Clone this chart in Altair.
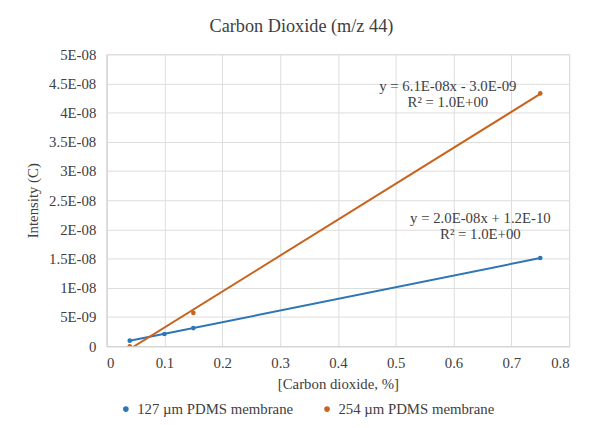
import altair as alt
import pandas as pd

series_names = ["127 µm PDMS membrane", "254 µm PDMS membrane"]
x_blue = [0.04, 0.10, 0.15, 0.75]
y_blue = [0.95e-9, 2.1e-9, 3.1e-9, 1.51e-8]
x_orange = [0.04, 0.15, 0.75]
y_orange = [0.0, 5.7e-9, 4.33e-8]
y_tick_values = [0, 5e-9, 1e-8, 1.5e-8, 2e-8, 2.5e-8, 3e-8, 3.5e-8, 4e-8, 4.5e-8, 5e-8]
y_tick_labels = ["0", "5E-09", "1E-08", "1.5E-08", "2E-08", "2.5E-08", "3E-08",
                 "3.5E-08", "4E-08", "4.5E-08", "5E-08"]
x_tick_values = [0, 0.1, 0.2, 0.3, 0.4, 0.5, 0.6, 0.7, 0.8]
eq_orange = ["y = 6.1E-08x - 3.0E-09", "R² = 1.0E+00"]
eq_blue = ["y = 2.0E-08x + 1.2E-10", "R² = 1.0E+00"]
colors = ["#2E75B6", "#C8641E"]

df = pd.DataFrame(
    [{"x": a, "y": b, "series": series_names[0]} for a, b in zip(x_blue, y_blue)]
    + [{"x": a, "y": b, "series": series_names[1]} for a, b in zip(x_orange, y_orange)]
)

FONT = "Liberation Serif"
TXT = "#404040"
FS = 15
label_arr = "[" + ",".join("'" + s + "'" for s in y_tick_labels) + "]"

xscale = alt.Scale(domain=[0, 0.8], nice=False, zero=False)
yscale = alt.Scale(domain=[0, 5e-8], nice=False)
color = alt.Color("series:N", scale=alt.Scale(domain=series_names, range=colors),
                  legend=alt.Legend(title=None, orient="none", legendX=12, legendY=352,
                                    direction="horizontal", symbolType="circle",
                                    symbolSize=18, labelFont=FONT, labelFontSize=FS,
                                    labelColor=TXT, columnPadding=26, labelLimit=300,
                                    labelOffset=4))

xenc = alt.X("x:Q", scale=xscale,
             axis=alt.Axis(title="[Carbon dioxide, %]", values=x_tick_values, format="~g",
                           titleFont=FONT, titleFontSize=FS, titleFontWeight="normal",
                           titleColor=TXT, labelFont=FONT, labelFontSize=FS, labelColor=TXT,
                           ticks=False, domainColor="#d0d0d0", gridColor="#dcdcdc",
                           labelPadding=10, titlePadding=6))
yenc = alt.Y("y:Q", scale=yscale,
             axis=alt.Axis(title="Intensity (C)", values=y_tick_values,
                           labelExpr=label_arr + "[round(datum.value/5e-9)]",
                           titleFont=FONT, titleFontSize=FS, titleFontWeight="normal",
                           titleColor=TXT, labelFont=FONT, labelFontSize=FS, labelColor=TXT,
                           ticks=False, domainColor="#d0d0d0", gridColor="#dcdcdc",
                           labelPadding=11, titlePadding=8))

base = alt.Chart(df)

lines = base.transform_regression("x", "y", groupby=["series"], extent=[0.04, 0.75]).mark_line(
    strokeWidth=2, clip=True).encode(x=xenc, y=yenc, color=color)
points = base.mark_circle(size=22, opacity=1, clip=True).encode(x=xenc, y=yenc, color=color)


def label(s, px, py):
    return alt.Chart(pd.DataFrame({"t": [s]})).mark_text(
        font=FONT, fontSize=FS, color=TXT, align="center", baseline="middle").encode(
        text="t:N", x=alt.value(px), y=alt.value(py))


texts = [label(eq_orange[0], 346, 32), label(eq_orange[1], 346, 48),
         label(eq_blue[0], 379, 166), label(eq_blue[1], 379, 182)]

chart = alt.layer(lines, points, *texts).properties(
    width=469, height=296,
    title=alt.TitleParams("Carbon Dioxide (m/z 44)", font=FONT, fontSize=18.5, fontWeight="normal",
                          color=TXT, anchor="middle", dx=-37, offset=12),
    autosize=alt.AutoSizeParams(type="none"),
    padding={"left": 100, "top": 44, "right": 12, "bottom": 80},
).configure_view(stroke=None).configure(background="white")

chart.save("out.html", embed_options={"renderer": "svg", "actions": False})
